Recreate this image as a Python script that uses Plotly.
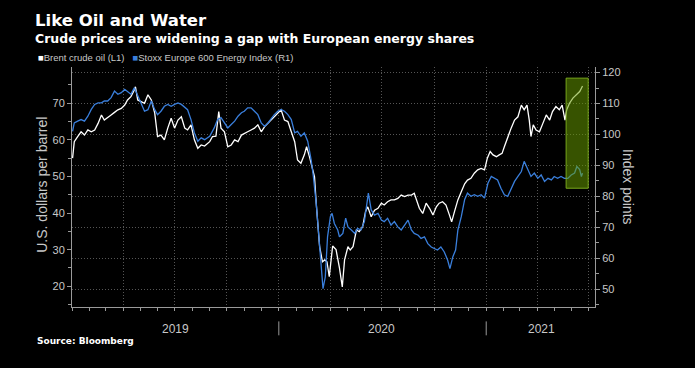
import plotly.graph_objects as go

# ---------------- data ----------------
brent_dates = [
    "2019-01-02","2019-01-05","2019-01-11","2019-01-17","2019-01-23","2019-01-29","2019-02-04","2019-02-10",
    "2019-02-16","2019-02-22","2019-02-27","2019-03-05","2019-03-11","2019-03-17","2019-03-23","2019-03-29",
    "2019-04-04","2019-04-09","2019-04-15","2019-04-21","2019-04-23","2019-04-27","2019-05-03","2019-05-09",
    "2019-05-15","2019-05-21","2019-05-27","2019-06-01","2019-06-07","2019-06-13","2019-06-19","2019-06-25",
    "2019-07-01","2019-07-07","2019-07-13","2019-07-19","2019-07-24","2019-07-30","2019-08-05","2019-08-11",
    "2019-08-17","2019-08-23","2019-09-01","2019-09-06","2019-09-12","2019-09-17","2019-09-21","2019-09-27",
    "2019-10-03","2019-10-09","2019-10-15","2019-10-21","2019-10-27","2019-11-01","2019-11-07","2019-11-13",
    "2019-11-19","2019-11-25","2019-12-01","2019-12-07","2019-12-13","2019-12-19","2019-12-24","2019-12-30",
    "2020-01-05","2020-01-11","2020-01-17","2020-01-23","2020-01-29","2020-02-03","2020-02-09","2020-02-15",
    "2020-02-19","2020-02-24","2020-02-29","2020-03-04","2020-03-07","2020-03-10","2020-03-13","2020-03-18",
    "2020-03-22","2020-03-26","2020-03-30","2020-04-05","2020-04-11","2020-04-17","2020-04-22","2020-04-26",
    "2020-05-02","2020-05-06","2020-05-11","2020-05-17","2020-05-22","2020-05-28","2020-06-02","2020-06-06",
    "2020-06-12","2020-06-18","2020-06-24","2020-06-30","2020-07-05","2020-07-11","2020-07-17","2020-07-23",
    "2020-07-29","2020-08-04","2020-08-10","2020-08-16","2020-08-22","2020-08-27","2020-08-31","2020-09-05",
    "2020-09-11","2020-09-17","2020-09-23","2020-09-29","2020-10-05","2020-10-10","2020-10-16","2020-10-22",
    "2020-10-28","2020-11-01","2020-11-06","2020-11-12","2020-11-18","2020-11-24","2020-11-29","2020-12-05",
    "2020-12-11","2020-12-17","2020-12-23","2020-12-29","2021-01-03","2021-01-08","2021-01-13","2021-01-19",
    "2021-01-24","2021-01-29","2021-02-02","2021-02-08","2021-02-14","2021-02-20","2021-02-26","2021-03-04",
    "2021-03-09","2021-03-14","2021-03-18","2021-03-21","2021-03-25","2021-03-30","2021-04-05","2021-04-11",
    "2021-04-17","2021-04-23","2021-04-28","2021-05-04","2021-05-10","2021-05-15","2021-05-20","2021-05-23",
    "2021-05-28","2021-06-03","2021-06-09","2021-06-15","2021-06-18","2021-06-20",
]
brent_values = [
    55.0, 59.5, 60.9, 62.2, 61.3, 62.7, 62.2, 62.7,
    64.5, 66.8, 65.4, 66.0, 66.8, 67.5, 68.2, 68.6,
    69.5, 70.9, 71.8, 73.6, 74.5, 70.9, 70.4, 70.0,
    72.3, 70.9, 67.3, 60.9, 61.3, 60.0, 63.2, 65.9,
    63.2, 65.4, 66.3, 63.2, 62.7, 64.1, 60.0, 57.7,
    58.6, 58.3, 59.5, 60.9, 61.0, 67.7, 63.2, 62.2,
    58.1, 58.6, 60.0, 59.5, 61.3, 61.8, 62.2, 62.7,
    63.2, 64.1, 62.2, 63.6, 64.5, 65.4, 66.3, 67.3,
    68.2, 65.4, 65.0, 62.2, 59.5, 54.5, 53.6, 55.9,
    58.1, 55.4, 52.7, 49.9, 42.7, 35.4, 30.8, 26.7,
    27.2, 26.7, 22.6, 31.0, 30.0, 25.0, 19.8, 27.2,
    30.8, 29.9, 30.8, 35.4, 34.9, 36.3, 40.4, 41.7,
    39.0, 40.8, 41.3, 42.7, 42.2, 43.1, 43.6, 43.6,
    44.0, 44.9, 44.5, 44.9, 44.9, 45.4, 43.6, 41.3,
    39.9, 42.7, 41.3, 39.5, 41.7, 42.7, 43.1, 42.2,
    39.5, 37.6, 40.4, 43.6, 45.8, 48.0, 49.0, 49.5,
    50.9, 51.8, 52.2, 51.8, 55.0, 56.8, 55.9, 55.4,
    55.9, 56.3, 58.1, 60.9, 63.2, 65.4, 66.3, 69.5,
    68.2, 69.5, 65.4, 60.9, 64.1, 62.7, 62.2, 64.5,
    66.8, 65.4, 67.7, 69.1, 68.2, 69.5, 65.4, 68.2,
    70.0, 71.4, 72.3, 73.2, 74.1, 74.7,
]

stoxx_dates = [
    "2019-01-02","2019-01-05","2019-01-11","2019-01-17","2019-01-23","2019-01-29","2019-02-04","2019-02-10",
    "2019-02-16","2019-02-22","2019-02-27","2019-03-05","2019-03-11","2019-03-17","2019-03-23","2019-03-29",
    "2019-04-04","2019-04-09","2019-04-15","2019-04-21","2019-04-27","2019-05-03","2019-05-09","2019-05-15",
    "2019-05-21","2019-05-27","2019-06-01","2019-06-07","2019-06-13","2019-06-19","2019-06-25","2019-07-01",
    "2019-07-07","2019-07-13","2019-07-19","2019-07-24","2019-07-30","2019-08-05","2019-08-11","2019-08-17",
    "2019-08-23","2019-09-01","2019-09-09","2019-09-15","2019-09-21","2019-09-27","2019-10-03","2019-10-09",
    "2019-10-15","2019-10-21","2019-10-27","2019-11-01","2019-11-07","2019-11-13","2019-11-19","2019-11-25",
    "2019-12-01","2019-12-07","2019-12-13","2019-12-19","2019-12-24","2019-12-30","2020-01-05","2020-01-11",
    "2020-01-17","2020-01-23","2020-01-29","2020-02-03","2020-02-09","2020-02-15","2020-02-21","2020-02-27",
    "2020-03-02","2020-03-07","2020-03-10","2020-03-13","2020-03-16","2020-03-19","2020-03-23","2020-03-27",
    "2020-04-01","2020-04-04","2020-04-08","2020-04-14","2020-04-17","2020-04-23","2020-04-28","2020-05-02",
    "2020-05-08","2020-05-14","2020-05-19","2020-05-25","2020-05-31","2020-06-04","2020-06-07","2020-06-12",
    "2020-06-18","2020-06-24","2020-06-30","2020-07-05","2020-07-11","2020-07-17","2020-07-23","2020-07-29",
    "2020-08-04","2020-08-10","2020-08-16","2020-08-22","2020-08-27","2020-09-03","2020-09-08","2020-09-14",
    "2020-09-20","2020-09-26","2020-10-02","2020-10-07","2020-10-13","2020-10-19","2020-10-25","2020-10-29",
    "2020-11-03","2020-11-08","2020-11-12","2020-11-18","2020-11-24","2020-11-29","2020-12-05","2020-12-11",
    "2020-12-17","2020-12-23","2020-12-29","2021-01-04","2021-01-10","2021-01-16","2021-01-21","2021-01-27",
    "2021-02-02","2021-02-08","2021-02-14","2021-02-20","2021-02-26","2021-03-04","2021-03-09","2021-03-15",
    "2021-03-21","2021-03-27","2021-04-02","2021-04-08","2021-04-14","2021-04-20","2021-04-26","2021-05-01",
    "2021-05-07","2021-05-13","2021-05-19","2021-05-25","2021-05-31","2021-06-06","2021-06-10","2021-06-15",
    "2021-06-18","2021-06-20",
]
stoxx_values = [
    101.0, 103.7, 104.3, 104.8, 104.3, 105.9, 108.1, 109.7,
    110.2, 110.2, 110.8, 110.8, 111.9, 114.0, 113.0, 113.5,
    114.6, 114.0, 113.0, 115.1, 112.4, 110.2, 107.5, 108.0,
    110.8, 108.0, 106.4, 107.5, 109.1, 109.7, 109.1, 109.7,
    110.2, 109.7, 108.6, 108.0, 104.8, 100.5, 97.8, 98.9,
    98.3, 99.4, 102.1, 104.8, 105.4, 103.7, 102.1, 103.2,
    104.3, 105.9, 107.0, 107.5, 108.6, 108.6, 107.5, 106.4,
    103.7, 102.6, 103.7, 105.4, 106.4, 107.5, 108.1, 107.5,
    106.4, 104.8, 100.5, 101.0, 99.4, 100.5, 97.8, 91.8,
    86.4, 77.7, 70.1, 62.6, 56.0, 50.1, 53.9, 66.9,
    73.4, 74.5, 71.2, 69.1, 66.9, 68.0, 72.9, 70.1,
    69.1, 68.0, 69.6, 69.1, 71.8, 77.7, 81.0, 75.6,
    73.9, 74.5, 72.3, 71.8, 72.9, 70.7, 71.8, 70.1,
    69.1, 70.7, 72.3, 69.1, 68.0, 67.4, 66.4, 66.9,
    64.7, 63.6, 63.1, 62.6, 63.6, 62.0, 59.3, 56.6,
    60.4, 62.6, 69.1, 73.4, 79.0, 81.0, 80.0, 80.5,
    80.0, 80.5, 79.4, 84.2, 86.4, 85.8, 85.3, 82.6,
    80.5, 80.0, 82.6, 84.8, 86.4, 88.0, 91.3, 88.6,
    86.4, 87.5, 85.8, 86.9, 84.8, 85.8, 85.3, 86.4,
    85.8, 86.4, 85.8, 85.8, 86.9, 87.5, 89.6, 88.6,
    86.4, 87.5,
]

year_labels = ["2019", "2020", "2021"]
year_label_dates = ["2019-07-02", "2020-07-01", "2021-04-08"]
year_breaks = ["2020-01-01", "2021-01-01"]

highlight_start = "2021-05-22"
highlight_end = "2021-06-30"
highlight_low = 82.6
highlight_high = 118.2

# ---------------- styling ----------------
WHITE = "#ffffff"
BLUE = "#3a7fdc"
AXIS = "#9a9a9a"
TICKTXT = "#c8c8c8"
GRID = "#555555"
GRIDDASH = "1px,2px"
FONT = "Liberation Sans"
BOLD = "DejaVu Sans"

fig = go.Figure()
fig.add_trace(go.Scatter(x=stoxx_dates, y=stoxx_values, mode="lines", yaxis="y2",
                         line=dict(color=BLUE, width=1.3), name="Stoxx Europe 600 Energy Index (R1)"))
fig.add_trace(go.Scatter(x=brent_dates, y=brent_values, mode="lines", yaxis="y",
                         line=dict(color=WHITE, width=1.3), name="Brent crude oil (L1)"))

fig.update_layout(
    width=695, height=368,
    margin=dict(l=72, r=100, t=67, b=61),
    paper_bgcolor="black", plot_bgcolor="black",
    showlegend=False,
    font=dict(family=FONT, color=TICKTXT, size=11),
    xaxis=dict(
        type="date", range=["2019-01-01", "2021-07-12"],
        showline=True, linecolor=AXIS, linewidth=1,
        tick0="2019-01-01", dtick="M3", ticks="outside", ticklen=3, tickcolor=AXIS,
        showticklabels=False,
        showgrid=True, gridcolor=GRID, griddash=GRIDDASH, gridwidth=1,
        minor=dict(dtick="M1", ticks="outside", ticklen=3, tickcolor=AXIS, showgrid=False),
        zeroline=False,
    ),
    yaxis=dict(
        range=[14.34, 79.9], tick0=0, dtick=10,
        showline=True, linecolor=AXIS, linewidth=1,
        ticks="outside", ticklen=4, tickcolor=AXIS,
        tickfont=dict(size=11, color=TICKTXT),
        minor=dict(dtick=5, ticks="outside", ticklen=3, tickcolor=AXIS),
        showgrid=False, zeroline=False,
    ),
    yaxis2=dict(
        overlaying="y", side="right", anchor="x",
        range=[44.2, 121.8], tick0=0, dtick=10,
        showline=True, linecolor=AXIS, linewidth=1,
        ticks="outside", ticklen=4, tickcolor=AXIS,
        tickfont=dict(size=11, color=TICKTXT),
        minor=dict(dtick=5, ticks="outside", ticklen=3, tickcolor=AXIS),
        showgrid=True, gridcolor=GRID, griddash=GRIDDASH, gridwidth=1, zeroline=False,
    ),
)

# highlight box
fig.add_shape(type="rect", xref="x", yref="y2",
              x0=highlight_start, x1=highlight_end, y0=highlight_low, y1=highlight_high,
              fillcolor="rgba(105,160,0,0.52)", line=dict(color="rgba(130,180,30,0.9)", width=1),
              layer="above")

# year separators
for d in year_breaks:
    fig.add_shape(type="line", xref="x", yref="paper", x0=d, x1=d, y0=-0.06, y1=-0.118,
                  line=dict(color=AXIS, width=1))

anns = []
for lab, d in zip(year_labels, year_label_dates):
    anns.append(dict(x=d, y=-0.09, xref="x", yref="paper", text=lab, showarrow=False,
                     font=dict(size=12, color=TICKTXT, family=FONT), xanchor="center", yanchor="middle"))

anns += [
    dict(x=-0.0746, y=1.242, xref="paper", yref="paper", xanchor="left", yanchor="top",
         text="<b>Like Oil and Water</b>", showarrow=False,
         font=dict(family=BOLD, size=16.5, color="white")),
    dict(x=-0.0746, y=1.158, xref="paper", yref="paper", xanchor="left", yanchor="top",
         text="<b>Crude prices are widening a gap with European energy shares</b>", showarrow=False,
         font=dict(family=BOLD, size=12.5, color="white")),
    dict(x=-0.068, y=1.039, xref="paper", yref="paper", xanchor="left", yanchor="middle",
         text="<span style='color:#ffffff'>■</span>Brent crude oil (L1)   "
              "<span style='color:%s'>■</span>Stoxx Europe 600 Energy Index (R1)" % BLUE,
         showarrow=False, font=dict(family=FONT, size=9.5, color=TICKTXT)),
    dict(x=-0.058, y=0.508, xref="paper", yref="paper", text="U.S. dollars per barrel",
         textangle=-90, showarrow=False, font=dict(family=FONT, size=14, color=TICKTXT),
         xanchor="center", yanchor="middle"),
    dict(x=1.063, y=0.50, xref="paper", yref="paper", text="Index points",
         textangle=90, showarrow=False, font=dict(family=FONT, size=14, color=TICKTXT),
         xanchor="center", yanchor="middle"),
    dict(x=-0.071, y=-0.143, xref="paper", yref="paper", xanchor="left", yanchor="middle",
         text="<b>Source: Bloomberg</b>", showarrow=False,
         font=dict(family=BOLD, size=9, color="white")),
]
fig.update_layout(annotations=anns)

fig.write_html("out.html", config={"displayModeBar": False})

# remove the default page margin so the figure fills the window like the reference
with open("out.html", "r", encoding="utf-8") as f:
    html = f.read()
html = html.replace("<head>", "<head><style>html,body{margin:0;padding:0;background:#000;}</style>", 1)
with open("out.html", "w", encoding="utf-8") as f:
    f.write(html)
